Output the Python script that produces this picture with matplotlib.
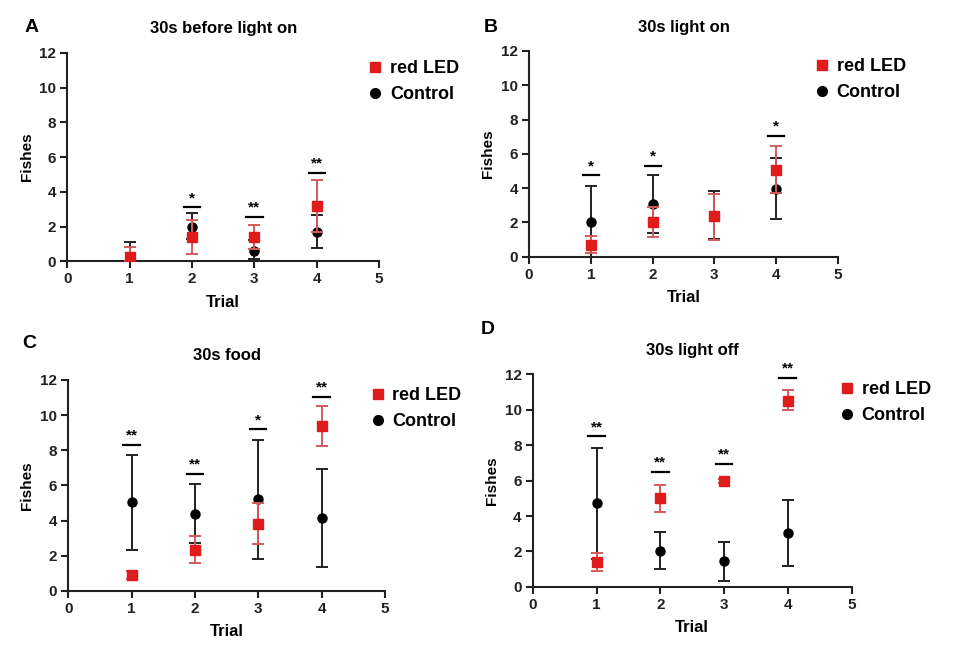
import numpy as np
import matplotlib
matplotlib.use("Agg")
import matplotlib.pyplot as plt
from matplotlib.lines import Line2D

plt.rcParams['font.family'] = ['Liberation Sans', 'DejaVu Sans']
plt.rcParams['font.weight'] = 'bold'

trials = [1, 2, 3, 4]

# panel A - 30s before light on
a_red = [0.25, 1.4, 1.4, 3.2]
a_red_lo = [0.0, 0.4, 0.7, 1.7]
a_red_hi = [0.8, 2.35, 2.1, 4.7]
a_ctl = [0.2, 1.95, 0.6, 1.7]
a_ctl_lo = [0.0, 1.3, 0.1, 0.75]
a_ctl_hi = [1.1, 2.75, 1.2, 2.65]
a_sig = [np.nan, 3.1, 2.55, 5.1]
a_stars = ['', '*', '**', '**']

# panel B - 30s light on
b_red = [0.7, 2.0, 2.35, 5.05]
b_red_lo = [0.2, 1.15, 1.0, 3.7]
b_red_hi = [1.2, 2.9, 3.65, 6.45]
b_ctl = [2.0, 3.1, 2.4, 3.95]
b_ctl_lo = [0.0, 1.4, 1.05, 2.2]
b_ctl_hi = [4.1, 4.75, 3.85, 5.75]
b_sig = [4.75, 5.3, np.nan, 7.05]
b_stars = ['*', '*', '', '*']

# panel C - 30s food
c_red = [0.9, 2.3, 3.8, 9.35]
c_red_lo = [0.7, 1.6, 2.65, 8.25]
c_red_hi = [1.1, 3.1, 5.0, 10.5]
c_ctl = [5.05, 4.35, 5.2, 4.15]
c_ctl_lo = [2.35, 2.7, 1.8, 1.35]
c_ctl_hi = [7.75, 6.05, 8.6, 6.95]
c_sig = [8.3, 6.65, 9.2, 11.05]
c_stars = ['**', '**', '*', '**']

# panel D - 30s light off
d_red = [1.4, 5.0, 6.0, 10.5]
d_red_lo = [0.9, 4.25, 5.85, 9.95]
d_red_hi = [1.9, 5.75, 6.1, 11.1]
d_ctl = [4.75, 2.05, 1.45, 3.05]
d_ctl_lo = [1.6, 1.0, 0.35, 1.2]
d_ctl_hi = [7.85, 3.1, 2.55, 4.9]
d_sig = [8.5, 6.5, 6.95, 11.8]
d_stars = ['**', '**', '**', '**']

RED = '#e01b1b'


def draw_panel(ax, title, red, red_lo, red_hi, ctl, ctl_lo, ctl_hi, sig, stars, leg_x=0.93):
    red = np.array(red); ctl = np.array(ctl)
    ax.errorbar(trials, ctl, yerr=[ctl - np.array(ctl_lo), np.array(ctl_hi) - ctl],
                fmt='o', color='black', ms=6.5, ecolor='#222222', elinewidth=1.4,
                capsize=4, capthick=1.4, zorder=3)
    ax.errorbar(trials, red, yerr=[red - np.array(red_lo), np.array(red_hi) - red],
                fmt='s', color=RED, ms=6.5, ecolor='#d45a5a', elinewidth=1.4,
                capsize=4, capthick=1.4, zorder=4)
    # significance bars
    for t, s, lab in zip(trials, sig, stars):
        if np.isnan(s):
            continue
        ax.plot([t - 0.13, t + 0.13], [s, s], color='black', lw=1.6)
        ax.text(t, s + 0.12, lab, ha='center', va='bottom', fontsize=11, fontweight='bold')
    ax.set_xlim(0, 5)
    ax.set_ylim(0, 12)
    ax.set_xticks([0, 1, 2, 3, 4, 5])
    ax.set_yticks([0, 2, 4, 6, 8, 10, 12])
    ax.set_xlabel('Trial', fontsize=12, fontweight='bold', labelpad=6)
    ax.set_ylabel('Fishes', fontsize=11, fontweight='bold', labelpad=4)
    ax.set_title(title, fontsize=12, fontweight='bold', pad=14)
    for sp in ['top', 'right']:
        ax.spines[sp].set_visible(False)
    for sp in ['left', 'bottom']:
        ax.spines[sp].set_linewidth(1.5)
        ax.spines[sp].set_color('#222222')
    ax.tick_params(width=1.5, length=5, labelsize=11, colors='#222222', pad=3)
    for lbl in ax.get_xticklabels() + ax.get_yticklabels():
        lbl.set_fontweight('bold')
    handles = [Line2D([], [], ls='none', marker='s', color=RED, ms=7),
               Line2D([], [], ls='none', marker='o', color='black', ms=7)]
    leg = ax.legend(handles, ['red LED', 'Control'], loc='upper left',
                    bbox_to_anchor=(leg_x, 1.0), frameon=False, fontsize=13,
                    handletextpad=0.2, handlelength=1.2, labelspacing=0.5,
                    borderaxespad=0)
    for t in leg.get_texts():
        t.set_fontweight('bold')


fig = plt.figure(figsize=(9.6, 6.45), dpi=100)
axA = fig.add_axes([0.070, 0.595, 0.325, 0.323])
axB = fig.add_axes([0.551, 0.602, 0.322, 0.319])
axC = fig.add_axes([0.071, 0.084, 0.330, 0.327])
axD = fig.add_axes([0.555, 0.090, 0.332, 0.330])

draw_panel(axA, '30s before light on', a_red, a_red_lo, a_red_hi, a_ctl, a_ctl_lo, a_ctl_hi, a_sig, a_stars)
draw_panel(axB, '30s light on', b_red, b_red_lo, b_red_hi, b_ctl, b_ctl_lo, b_ctl_hi, b_sig, b_stars, leg_x=0.89)
draw_panel(axC, '30s food', c_red, c_red_lo, c_red_hi, c_ctl, c_ctl_lo, c_ctl_hi, c_sig, c_stars, leg_x=0.92)
draw_panel(axD, '30s light off', d_red, d_red_lo, d_red_hi, d_ctl, d_ctl_lo, d_ctl_hi, d_sig, d_stars)

fig.text(25 / 960, 1 - 27 / 645, 'A', fontsize=14, fontweight='bold', va='center')
fig.text(484 / 960, 1 - 27 / 645, 'B', fontsize=14, fontweight='bold', va='center')
fig.text(22 / 960, 1 - 343 / 645, 'C', fontsize=14, fontweight='bold', va='center')
fig.text(481 / 960, 1 - 330 / 645, 'D', fontsize=14, fontweight='bold', va='center')

fig.savefig('out.png', dpi=100, facecolor='white')
